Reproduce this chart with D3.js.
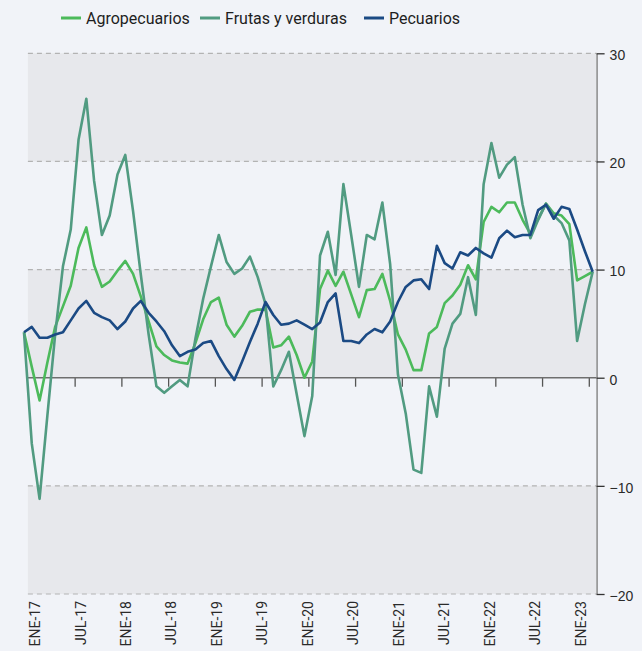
<!DOCTYPE html>
<html>
<head>
<meta charset="utf-8">
<script src="https://cdn.jsdelivr.net/npm/d3@7/dist/d3.min.js"></script>
<style>
  body { margin: 0; background: #f1f3f8; }
  svg { display: block; font-family: Roboto, "Open Sans", sans-serif; }
</style>
</head>
<body>
<svg id="chart" width="642" height="651"></svg>
<script>
// monthly series, ENE-17 .. FEB-23 (74 months)
var months = d3.timeMonths(new Date(2017, 0, 1), new Date(2023, 2, 1));

var agropecuarios = [4.2, 1.0, -2.1, 1.4, 4.7, 6.6, 8.5, 12.0, 13.9, 10.4, 8.4, 8.9,
  9.9, 10.8, 9.6, 7.5, 5.2, 2.9, 2.1, 1.6, 1.4, 1.3, 3.2, 5.4,
  7.0, 7.4, 4.9, 3.8, 4.8, 6.1, 6.3, 6.3, 2.8, 3.0, 3.8, 2.1,
  0.0, 1.5, 8.2, 9.9, 8.5, 9.8, 7.7, 5.6, 8.1, 8.2, 9.6, 7.1,
  4.0, 2.6, 0.7, 0.7, 4.1, 4.7, 6.9, 7.6, 8.6, 10.4, 9.1, 14.4,
  15.8, 15.3, 16.2, 16.2, 14.6, 13.3, 14.7, 16.1, 15.2, 15.0, 14.2, 9.0,
  9.4, 9.8];

var frutasVerduras = [4.2, -6.1, -11.2, -3.5, 4.0, 10.3, 13.7, 22.0, 25.8, 18.2, 13.2, 15.0,
  18.8, 20.6, 15.4, 9.5, 4.0, -0.8, -1.4, -0.8, -0.2, -0.8, 3.6, 7.3,
  10.3, 13.2, 10.7, 9.6, 10.1, 11.2, 9.3, 6.8, -0.8, 0.7, 2.4, -1.5,
  -5.4, -1.7, 11.3, 13.5, 9.5, 17.9, 13.2, 8.4, 13.2, 12.8, 16.2, 10.5,
  0.3, -3.3, -8.5, -8.8, -0.8, -3.6, 2.7, 5.0, 5.9, 9.3, 5.8, 17.9,
  21.7, 18.5, 19.7, 20.4, 16.0, 12.9, 14.6, 16.1, 15.0, 14.3, 12.7, 3.4,
  6.8, 9.8];

var pecuarios = [4.2, 4.7, 3.7, 3.7, 4.0, 4.2, 5.3, 6.4, 7.1, 6.0, 5.6, 5.3,
  4.5, 5.2, 6.4, 7.1, 6.0, 5.2, 4.3, 3.0, 2.0, 2.4, 2.6, 3.2,
  3.4, 2.0, 0.8, -0.2, 1.5, 3.3, 5.0, 7.0, 5.8, 4.9, 5.0, 5.3,
  4.9, 4.5, 5.1, 7.0, 7.8, 3.4, 3.4, 3.2, 4.0, 4.5, 4.2, 5.2,
  7.0, 8.4, 9.0, 9.1, 8.2, 12.2, 10.6, 10.1, 11.6, 11.3, 12.0, 11.5,
  11.1, 12.9, 13.6, 13.0, 13.2, 13.2, 15.5, 16.0, 14.7, 15.8, 15.6, 13.7,
  11.7, 9.8];

var seriesNames = ["Agropecuarios", "Frutas y verduras", "Pecuarios"];
var seriesColors = ["#4cba5b", "#519b81", "#1b4a84"];
var xTickLabels = ["ENE-17", "JUL-17", "ENE-18", "JUL-18", "ENE-19", "JUL-19", "ENE-20",
  "JUL-20", "ENE-21", "JUL-21", "ENE-22", "JUL-22", "ENE-23"];
var yTicks = [30, 20, 10, 0, -10, -20];

var svg = d3.select("#chart");

var x = d3.scalePoint()
  .domain(d3.range(months.length))
  .range([24, 592.7]);
var step = x.step();
var left = x(0) + step / 2;
var right = x(months.length - 1) + step / 2;

var y = d3.scaleLinear()
  .domain([-20, 30])
  .range([594, 53.3]);

// shaded bands
var bands = [[30, 20], [10, 0], [-10, -20]];
svg.append("g").selectAll("rect")
  .data(bands)
  .enter()
  .append("rect")
  .attr("x", left)
  .attr("width", right - left)
  .attr("y", function (d) { return y(d[0]); })
  .attr("height", function (d) { return y(d[1]) - y(d[0]); })
  .attr("fill", "#e7e8ec");

// dashed grid
svg.append("g").selectAll("line")
  .data(yTicks.filter(function (d) { return d !== 0; }))
  .enter()
  .append("line")
  .attr("x1", left)
  .attr("x2", right)
  .attr("y1", function (d) { return y(d); })
  .attr("y2", function (d) { return y(d); })
  .attr("stroke", "#b3b3b3")
  .attr("stroke-width", 1.2)
  .attr("stroke-dasharray", "5,4");

// right axis
var yAxis = d3.axisRight(y)
  .tickValues(yTicks)
  .tickSize(8)
  .tickSizeOuter(0)
  .tickPadding(5)
  .tickFormat(d3.format("d"));

var yG = svg.append("g")
  .attr("transform", "translate(" + right + ",0)")
  .call(yAxis);
yG.select(".domain").attr("stroke", "#8a8a8a").attr("stroke-width", 1.5);
yG.selectAll(".tick line").attr("stroke", "#333").attr("stroke-width", 1.3);
yG.selectAll(".tick text")
  .attr("fill", "#2a2a2a")
  .style("font-size", "14px")
  .attr("dy", "0.45em");

// zero axis with ticks
var tickIdx = d3.range(6, months.length, 6);
var xAxis = d3.axisBottom(d3.scaleLinear().domain([0, months.length - 1]).range([24, 592.7]))
  .tickValues(tickIdx.map(function (i) { return i + 0.5; }))
  .tickSize(9)
  .tickSizeOuter(0)
  .tickFormat("");

var xG = svg.append("g")
  .attr("transform", "translate(0," + y(0) + ")")
  .call(xAxis);
xG.select(".domain").remove();
xG.selectAll(".tick line").attr("stroke", "#555").attr("stroke-width", 1.3);
xG.append("line")
  .attr("x1", left)
  .attr("x2", right)
  .attr("stroke", "#6e6e6e")
  .attr("stroke-width", 1.5);

// rotated month labels
var xLabel = d3.scaleLinear()
  .domain([0, xTickLabels.length - 1])
  .range([35, 580.7]);

svg.append("g").selectAll("text")
  .data(xTickLabels)
  .enter()
  .append("text")
  .attr("transform", function (d, i) { return "translate(" + xLabel(i) + ",601) rotate(-90)"; })
  .attr("text-anchor", "end")
  .attr("dy", "0.36em")
  .attr("fill", "#2a2a2a")
  .style("font-size", "14px")
  .text(function (d) { return d; });

// lines
var series = [agropecuarios, frutasVerduras, pecuarios];
var line = d3.line()
  .x(function (d, i) { return x(i); })
  .y(function (d) { return y(d); });

svg.append("g").selectAll("path")
  .data(series)
  .enter()
  .append("path")
  .attr("d", line)
  .attr("fill", "none")
  .attr("stroke", function (d, i) { return seriesColors[i]; })
  .attr("stroke-width", 2.6)
  .attr("stroke-linejoin", "round");

// legend
var legendX = [61, 200, 364];
var legend = svg.append("g").attr("class", "legend");
legend.selectAll("line")
  .data(seriesNames)
  .enter()
  .append("line")
  .attr("x1", function (d, i) { return legendX[i]; })
  .attr("x2", function (d, i) { return legendX[i] + 20; })
  .attr("y1", 18)
  .attr("y2", 18)
  .attr("stroke", function (d, i) { return seriesColors[i]; })
  .attr("stroke-width", 3);

legend.selectAll("text")
  .data(seriesNames)
  .enter()
  .append("text")
  .attr("x", function (d, i) { return legendX[i] + 25; })
  .attr("y", 18)
  .attr("dy", "0.35em")
  .attr("fill", "#1e1e1e")
  .style("font-size", "16px")
  .text(function (d) { return d; });
</script>
</body>
</html>
